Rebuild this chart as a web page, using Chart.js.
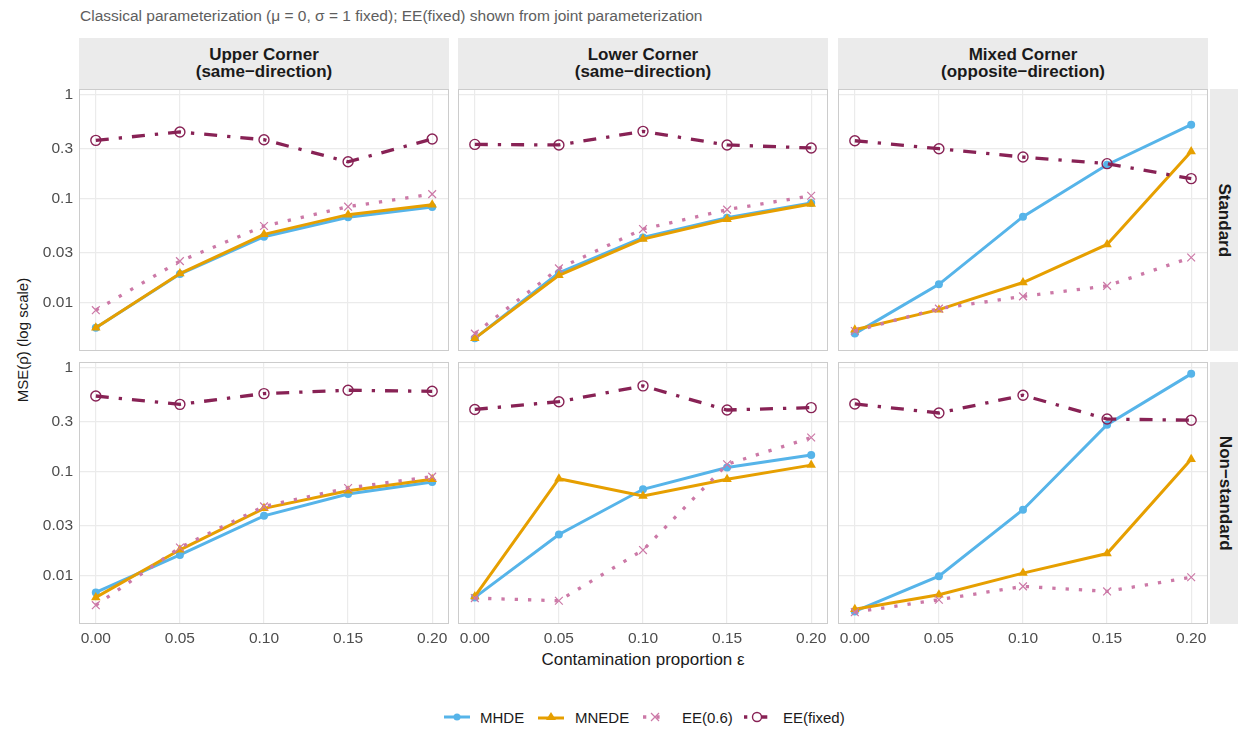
<!DOCTYPE html>
<html>
<head>
<meta charset="utf-8">
<script src="https://cdn.jsdelivr.net/npm/chart.js@4/dist/chart.umd.min.js"></script>
<style>
  body { margin: 0; width: 1238px; height: 729px; background: #fff; position: relative; overflow: hidden;
         font-family: "Liberation Sans", Arial, sans-serif; }
  canvas { position: absolute; }
  .txt { position: absolute; white-space: nowrap; }
  .strip { position: absolute; background: #ebebeb; color: #1a1a1a; font-weight: bold; font-size: 17px;
           line-height: 16.5px; display: flex; align-items: center; justify-content: center; text-align: center; }
  .vstrip span { transform: rotate(90deg); display: inline-block; white-space: nowrap; }
  .leg { position: absolute; top: 708px; font-size: 15px; color: #1a1a1a; display: flex; align-items: center; height: 18px; }
</style>
</head>
<body>
<div class="txt" style="left:80px;top:7px;font-size:15.5px;color:#5e5e5e;">Classical parameterization (μ = 0, σ = 1 fixed); EE(fixed) shown from joint parameterization</div>

<div class="strip" style="left:79px;top:38px;width:370px;height:51px;">Upper Corner<br>(same−direction)</div>
<div class="strip" style="left:458px;top:38px;width:370px;height:51px;">Lower Corner<br>(same−direction)</div>
<div class="strip" style="left:838px;top:38px;width:370px;height:51px;">Mixed Corner<br>(opposite−direction)</div>
<div class="strip vstrip" style="left:1210px;top:89px;width:28px;height:262px;"><span>Standard</span></div>
<div class="strip vstrip" style="left:1210px;top:362px;width:28px;height:262px;"><span>Non−standard</span></div>

<div class="txt" style="left:22px;top:340px;font-size:15px;color:#1a1a1a;transform:translate(-50%,-50%) rotate(-90deg);">MSE(ρ̂) (log scale)</div>
<div class="txt" style="left:643px;top:660px;font-size:17px;color:#1a1a1a;transform:translate(-50%,-50%);">Contamination proportion ε</div>

<div class="leg" style="left:444px;">
  <svg width="26" height="12"><line x1="0" y1="6" x2="26" y2="6" stroke="#56B4E9" stroke-width="3"/><circle cx="13" cy="6" r="3.5" fill="#56B4E9"/></svg>
  <span style="margin-left:10px">MHDE</span></div>
<div class="leg" style="left:538px;">
  <svg width="26" height="14"><line x1="0" y1="8" x2="26" y2="8" stroke="#E69F00" stroke-width="3"/><polygon points="13,2 18,10 8,10" fill="#E69F00"/></svg>
  <span style="margin-left:11px">MNEDE</span></div>
<div class="leg" style="left:643px;">
  <svg width="22" height="12"><line x1="0" y1="6" x2="22" y2="6" stroke="#CC79A7" stroke-width="3.3" stroke-dasharray="3.3 10"/><path d="M8,2 L16,10 M16,2 L8,10" stroke="#CC79A7" stroke-width="1.2"/></svg>
  <span style="margin-left:17px">EE(0.6)</span></div>
<div class="leg" style="left:744px;">
  <svg width="27" height="12"><line x1="0" y1="6" x2="27" y2="6" stroke="#882255" stroke-width="3.3" stroke-dasharray="3.3 6 14 10"/><circle cx="13" cy="6" r="4.5" fill="#fff" stroke="#882255" stroke-width="1.4"/></svg>
  <span style="margin-left:12px">EE(fixed)</span></div>

<script>
// x values and tick labels
const eps = [0, 0.05, 0.10, 0.15, 0.20];
const xTicks = [0, 0.05, 0.10, 0.15, 0.20];
const xTickLabels = ["0.00", "0.05", "0.10", "0.15", "0.20"];
const yTicks = [0.01, 0.03, 0.1, 0.3, 1];
const yTickLabels = ["0.01", "0.03", "0.1", "0.3", "1"];

// Standard row
const mhdeUpperStd  = [0.0057, 0.0187, 0.0428, 0.0659, 0.0828];
const mnedeUpperStd = [0.0057, 0.0189, 0.0451, 0.0698, 0.0871];
const ee06UpperStd  = [0.0084, 0.0249, 0.0542, 0.0833, 0.110];
const eefixUpperStd = [0.362, 0.436, 0.367, 0.225, 0.373];

const mhdeLowerStd  = [0.0045, 0.0192, 0.0421, 0.0652, 0.0904];
const mnedeLowerStd = [0.0045, 0.0182, 0.0406, 0.0630, 0.0885];
const ee06LowerStd  = [0.0050, 0.0212, 0.0507, 0.0780, 0.106];
const eefixLowerStd = [0.331, 0.327, 0.442, 0.327, 0.306];

const mhdeMixedStd  = [0.0050, 0.0149, 0.0667, 0.211, 0.513];
const mnedeMixedStd = [0.00545, 0.0085, 0.0155, 0.0361, 0.283];
const ee06MixedStd  = [0.0053, 0.0087, 0.0114, 0.0144, 0.027];
const eefixMixedStd = [0.359, 0.301, 0.250, 0.216, 0.155];

// Non-standard row
const mhdeUpperNon  = [0.00685, 0.0157, 0.0374, 0.0606, 0.0792];
const mnedeUpperNon = [0.00613, 0.0176, 0.0441, 0.0652, 0.0841];
const ee06UpperNon  = [0.00516, 0.0185, 0.0461, 0.0693, 0.0891];
const eefixUpperNon = [0.532, 0.442, 0.561, 0.604, 0.590];

const mhdeLowerNon  = [0.00613, 0.0247, 0.0673, 0.109, 0.144];
const mnedeLowerNon = [0.00627, 0.0851, 0.0580, 0.0841, 0.115];
const ee06LowerNon  = [0.00604, 0.00569, 0.0175, 0.117, 0.212];
const eefixLowerNon = [0.395, 0.469, 0.666, 0.390, 0.411];

const mhdeMixedNon  = [0.00449, 0.0098, 0.0428, 0.281, 0.869];
const mnedeMixedNon = [0.00472, 0.0065, 0.0105, 0.0162, 0.131];
const ee06MixedNon  = [0.00442, 0.00582, 0.00783, 0.0070, 0.00957];
const eefixMixedNon = [0.446, 0.365, 0.541, 0.319, 0.311];

const panels = [
  [0, 0, mhdeUpperStd, mnedeUpperStd, ee06UpperStd, eefixUpperStd],
  [0, 1, mhdeLowerStd, mnedeLowerStd, ee06LowerStd, eefixLowerStd],
  [0, 2, mhdeMixedStd, mnedeMixedStd, ee06MixedStd, eefixMixedStd],
  [1, 0, mhdeUpperNon, mnedeUpperNon, ee06UpperNon, eefixUpperNon],
  [1, 1, mhdeLowerNon, mnedeLowerNon, ee06LowerNon, eefixLowerNon],
  [1, 2, mhdeMixedNon, mnedeMixedNon, ee06MixedNon, eefixMixedNon],
];

const colLeft = [79, 458, 838];
const rowTop = [89, 362];
const W = 370, H = 262, P = 26;

const pts = (arr) => arr.map((v, i) => ({ x: eps[i], y: v }));

// grey frame round each panel, drawn over the data like ggplot
const panelBorder = {
  id: "panelBorder",
  afterDatasetsDraw(chart) {
    const a = chart.chartArea, ctx = chart.ctx;
    ctx.save();
    ctx.strokeStyle = "#cccccc";
    ctx.lineWidth = 1;
    ctx.strokeRect(a.left + 0.5, a.top + 0.5, a.width - 1, a.height - 1);
    ctx.restore();
  },
};

panels.forEach(([row, col, mhde, mnede, ee06, eefix]) => {
  const left = col === 0, bottom = row === 1;
  const yW = left ? 50 : 0, xH = bottom ? 26 : 0;
  const cv = document.createElement("canvas");
  cv.width = W + yW + 2 * P;
  cv.height = H + xH + 2 * P;
  cv.style.left = (colLeft[col] - yW - P) + "px";
  cv.style.top = (rowTop[row] - P) + "px";
  document.body.appendChild(cv);

  new Chart(cv, {
    type: "line",
    data: {
      datasets: [
        { label: "MHDE", data: pts(mhde), order: 4, borderColor: "#56B4E9", backgroundColor: "#56B4E9",
          borderWidth: 3, pointStyle: "circle", pointRadius: 4, pointBorderWidth: 0 },
        { label: "MNEDE", data: pts(mnede), order: 3, borderColor: "#E69F00", backgroundColor: "#E69F00",
          borderWidth: 3, pointStyle: "triangle", pointRadius: 5.5, pointBorderWidth: 0 },
        { label: "EE(0.6)", data: pts(ee06), order: 2, borderColor: "#CC79A7", backgroundColor: "#CC79A7",
          borderWidth: 3.3, borderDash: [3.3, 10], pointStyle: "crossRot", pointRadius: 5.5, pointBorderWidth: 1.2 },
        { label: "EE(fixed)", data: pts(eefix), order: 1, borderColor: "#882255", backgroundColor: "rgba(0,0,0,0)",
          borderWidth: 3.3, borderDash: [13, 10, 3.3, 10], pointStyle: "circle", pointRadius: 5, pointBorderWidth: 1.4 },
      ],
    },
    options: {
      responsive: false,
      devicePixelRatio: 1,
      animation: false,
      layout: { padding: P, autoPadding: false },
      plugins: { legend: { display: false }, tooltip: { enabled: false } },
      elements: { line: { tension: 0, borderCapStyle: "butt" } },
      scales: {
        x: {
          type: "linear",
          min: -0.01,
          max: 0.21,
          afterBuildTicks: (s) => { s.ticks = xTicks.map((v) => ({ value: v })); },
          afterFit: (s) => { s.height = xH; },
          grid: { color: "#ebebeb", lineWidth: 1.2, drawTicks: false },
          border: { display: false },
          ticks: {
            display: bottom, padding: 5, color: "#4d4d4d", maxRotation: 0, autoSkip: false,
            font: { size: 15.5, family: "'Liberation Sans', Arial, sans-serif" },
            callback: (v, i) => xTickLabels[i],
          },
        },
        y: {
          type: "logarithmic",
          min: 0.0034,
          max: 1.13,
          afterBuildTicks: (s) => { s.ticks = yTicks.map((v) => ({ value: v })); },
          afterFit: (s) => { s.width = yW; },
          grid: { color: "#ebebeb", lineWidth: 1.2, drawTicks: false },
          border: { display: false },
          ticks: {
            display: left, padding: 6, color: "#4d4d4d", autoSkip: false,
            font: { size: 15.5, family: "'Liberation Sans', Arial, sans-serif" },
            callback: (v, i) => yTickLabels[i],
          },
        },
      },
    },
    plugins: [panelBorder],
  });
});
</script>
</body>
</html>
